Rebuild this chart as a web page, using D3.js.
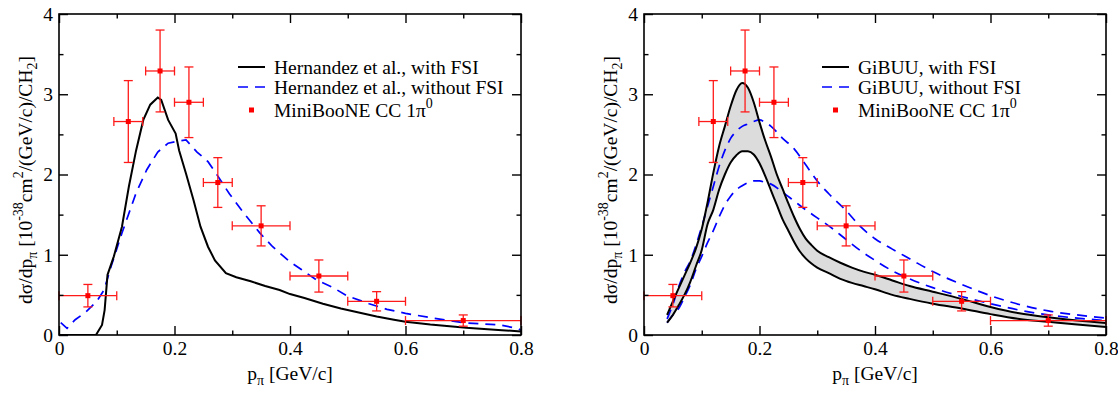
<!DOCTYPE html>
<html><head><meta charset="utf-8">
<script src="https://cdn.jsdelivr.net/npm/d3@7"></script>
<style>
body{margin:0;background:#fff}
svg{display:block}
text{font-family:"Liberation Serif","Times New Roman",serif;fill:#000}
</style>
</head><body>
<svg id="c" width="1118" height="394"></svg>
<script>
// ---------- data ----------
const xTickValues = [0, 0.2, 0.4, 0.6, 0.8];
const xTickLabels = ["0", "0.2", "0.4", "0.6", "0.8"];
const yTickValues = [0, 1, 2, 3, 4];
const yTickLabels = ["0", "1", "2", "3", "4"];
const xMinorTicks = [0.1, 0.3, 0.5, 0.7];
const yMinorTicks = [0.5, 1.5, 2.5, 3.5];

// MiniBooNE CC 1pi0 data
const mbX    = [0.05, 0.12, 0.175, 0.225, 0.275, 0.35, 0.45, 0.55, 0.70];
const mbXlo  = [0.0, 0.095, 0.15, 0.20, 0.25, 0.30, 0.40, 0.50, 0.60];
const mbXhi  = [0.1, 0.145, 0.20, 0.25, 0.30, 0.40, 0.50, 0.60, 0.80];
const mbY    = [0.49, 2.66, 3.29, 2.90, 1.90, 1.36, 0.735, 0.42, 0.18];
const mbYerr = [0.14, 0.51, 0.51, 0.44, 0.31, 0.25, 0.20, 0.12, 0.07];

// Hernandez et al., with FSI
const hernFsiX = [0, 0.064, 0.0745, 0.079, 0.084, 0.095, 0.109, 0.121, 0.1335, 0.146, 0.158, 0.171, 0.177, 0.189, 0.202, 0.208, 0.22, 0.233, 0.245, 0.258, 0.27, 0.289, 0.307, 0.332, 0.357, 0.382, 0.40, 0.425, 0.457, 0.488, 0.519, 0.55, 0.58, 0.60, 0.643, 0.705, 0.767, 0.80];
const hernFsiY = [0, 0, 0.125, 0.31, 0.75, 0.98, 1.35, 1.85, 2.30, 2.68, 2.87, 2.96, 2.93, 2.68, 2.51, 2.30, 2.01, 1.68, 1.35, 1.10, 0.93, 0.77, 0.72, 0.67, 0.61, 0.56, 0.51, 0.46, 0.39, 0.33, 0.28, 0.23, 0.19, 0.165, 0.13, 0.09, 0.06, 0.045];
// Hernandez et al., without FSI
const hernNoX = [0.003, 0.014, 0.028, 0.047, 0.065, 0.078, 0.09, 0.109, 0.1335, 0.152, 0.171, 0.189, 0.202, 0.22, 0.239, 0.258, 0.276, 0.295, 0.32, 0.348, 0.37, 0.40, 0.419, 0.446, 0.475, 0.498, 0.537, 0.568, 0.60, 0.648, 0.70, 0.764, 0.795, 0.80];
const hernNoY = [0.154, 0.083, 0.19, 0.29, 0.415, 0.56, 0.85, 1.27, 1.77, 2.06, 2.28, 2.39, 2.41, 2.43, 2.28, 2.16, 1.97, 1.76, 1.52, 1.27, 1.10, 0.91, 0.82, 0.685, 0.59, 0.49, 0.39, 0.32, 0.27, 0.21, 0.153, 0.125, 0.08, 0.06];

// GiBUU, with FSI (band edges on a common x grid)
const gibX = [0.04, 0.05, 0.06, 0.07, 0.08, 0.09, 0.10, 0.11, 0.12, 0.13, 0.14, 0.15, 0.16, 0.17, 0.18, 0.19, 0.20, 0.21, 0.22, 0.23, 0.24, 0.25, 0.26, 0.27, 0.28, 0.29, 0.30, 0.32, 0.34, 0.36, 0.38, 0.40, 0.43, 0.46, 0.50, 0.55, 0.60, 0.65, 0.70, 0.75, 0.80];
const gibFsiHi = [0.25, 0.42, 0.58, 0.74, 0.90, 1.08, 1.32, 1.65, 2.02, 2.35, 2.60, 2.85, 3.05, 3.14, 3.08, 2.90, 2.65, 2.42, 2.22, 2.00, 1.82, 1.64, 1.47, 1.32, 1.20, 1.12, 1.05, 0.97, 0.90, 0.84, 0.79, 0.75, 0.68, 0.61, 0.54, 0.45, 0.35, 0.27, 0.22, 0.18, 0.15];
const gibFsiLo = [0.154, 0.25, 0.37, 0.50, 0.66, 0.86, 1.06, 1.38, 1.56, 1.81, 2.00, 2.15, 2.24, 2.29, 2.29, 2.25, 2.14, 1.98, 1.80, 1.62, 1.44, 1.30, 1.16, 1.04, 0.955, 0.89, 0.84, 0.77, 0.70, 0.65, 0.61, 0.57, 0.50, 0.45, 0.39, 0.33, 0.26, 0.20, 0.165, 0.13, 0.10];
// GiBUU, without FSI (two dashed edges)
const gibNoX = [0.04, 0.05, 0.06, 0.07, 0.08, 0.09, 0.10, 0.11, 0.12, 0.13, 0.14, 0.15, 0.16, 0.17, 0.18, 0.19, 0.20, 0.21, 0.22, 0.24, 0.26, 0.28, 0.30, 0.32, 0.35, 0.375, 0.40, 0.43, 0.46, 0.50, 0.55, 0.60, 0.65, 0.70, 0.75, 0.80];
const gibNoHi = [0.20, 0.38, 0.60, 0.78, 0.92, 1.12, 1.35, 1.60, 1.85, 2.10, 2.30, 2.45, 2.54, 2.60, 2.63, 2.66, 2.68, 2.65, 2.60, 2.45, 2.32, 2.12, 1.92, 1.76, 1.55, 1.35, 1.20, 1.07, 0.95, 0.79, 0.63, 0.49, 0.38, 0.30, 0.25, 0.21];
const gibNoLo = [0.154, 0.25, 0.33, 0.47, 0.62, 0.82, 0.98, 1.15, 1.30, 1.47, 1.62, 1.73, 1.81, 1.86, 1.90, 1.92, 1.92, 1.90, 1.88, 1.78, 1.67, 1.56, 1.46, 1.36, 1.19, 1.05, 0.93, 0.80, 0.70, 0.59, 0.48, 0.39, 0.31, 0.25, 0.21, 0.18];

const legendLeft = ["Hernandez et al., with FSI", "Hernandez et al., without FSI", "MiniBooNE CC 1"];
const legendRight = ["GiBUU, with FSI", "GiBUU, without FSI", "MiniBooNE CC 1"];

// ---------- drawing ----------
const svg = d3.select("#c");
svg.append("rect").attr("width", 1118).attr("height", 394).attr("fill", "#fff");
const TOP = 14, BOT = 335;
const FS = 19.5, SFS = 14;
const FONT = '"Liberation Serif","Times New Roman",serif';

function panel(x0, x1, legend, legX, draw) {
  const x = d3.scaleLinear().domain([0, 0.8]).range([x0, x1]);
  const y = d3.scaleLinear().domain([0, 4]).range([BOT, TOP]);
  const g = svg.append("g");
  const clipId = "clip" + x0;
  svg.append("clipPath").attr("id", clipId).append("rect")
    .attr("x", x0).attr("y", TOP).attr("width", x1 - x0).attr("height", BOT - TOP);
  const plot = g.append("g").attr("clip-path", `url(#${clipId})`);

  draw(plot, x, y);

  // data
  const dg = g.append("g");
  mbX.forEach((v, i) => {
    const cx = x(v), cy = y(mbY[i]);
    const yl = y(mbY[i] - mbYerr[i]), yh = y(mbY[i] + mbYerr[i]);
    const xl = x(mbXlo[i]), xh = x(mbXhi[i]);
    const s = dg.append("g").attr("stroke", "#ff1a1a").attr("stroke-width", 1.3).attr("fill", "none");
    s.append("line").attr("x1", cx).attr("x2", cx).attr("y1", yl).attr("y2", yh);
    s.append("line").attr("x1", cx - 4.5).attr("x2", cx + 4.5).attr("y1", yl).attr("y2", yl);
    s.append("line").attr("x1", cx - 4.5).attr("x2", cx + 4.5).attr("y1", yh).attr("y2", yh);
    s.append("line").attr("x1", xl).attr("x2", xh).attr("y1", cy).attr("y2", cy);
    s.append("line").attr("x1", xl).attr("x2", xl).attr("y1", cy - 4.5).attr("y2", cy + 4.5);
    s.append("line").attr("x1", xh).attr("x2", xh).attr("y1", cy - 4.5).attr("y2", cy + 4.5);
    dg.append("rect").attr("x", cx - 2.5).attr("y", cy - 2.5).attr("width", 5).attr("height", 5).attr("fill", "#ff0000");
  });

  // axes (ticks inward)
  const ax = g.append("g").attr("class", "ax");
  ax.append("g").attr("transform", `translate(0,${BOT})`)
    .call(d3.axisBottom(x).tickValues(xTickValues).tickFormat((d, i) => xTickLabels[i]).tickSize(-9).tickSizeOuter(0).tickPadding(6));
  ax.append("g").attr("transform", `translate(0,${BOT})`)
    .call(d3.axisBottom(x).tickValues(xMinorTicks).tickFormat("").tickSize(-4.5).tickSizeOuter(0));
  ax.append("g").attr("transform", `translate(0,${TOP})`)
    .call(d3.axisTop(x).tickValues(xTickValues).tickFormat("").tickSize(-9).tickSizeOuter(0));
  ax.append("g").attr("transform", `translate(0,${TOP})`)
    .call(d3.axisTop(x).tickValues(xMinorTicks).tickFormat("").tickSize(-4.5).tickSizeOuter(0));
  ax.append("g").attr("transform", `translate(${x0},0)`)
    .call(d3.axisLeft(y).tickValues(yTickValues).tickFormat((d, i) => yTickLabels[i]).tickSize(-9).tickSizeOuter(0).tickPadding(6));
  ax.append("g").attr("transform", `translate(${x0},0)`)
    .call(d3.axisLeft(y).tickValues(yMinorTicks).tickFormat("").tickSize(-4.5).tickSizeOuter(0));
  ax.append("g").attr("transform", `translate(${x1},0)`)
    .call(d3.axisRight(y).tickValues(yTickValues).tickFormat("").tickSize(-9).tickSizeOuter(0));
  ax.append("g").attr("transform", `translate(${x1},0)`)
    .call(d3.axisRight(y).tickValues(yMinorTicks).tickFormat("").tickSize(-4.5).tickSizeOuter(0));
  ax.selectAll(".domain").remove();
  ax.selectAll("g").attr("font-family", FONT);
  ax.selectAll(".tick line").attr("stroke", "#000").attr("stroke-width", 1.4);
  ax.selectAll(".tick text").attr("font-size", FS).attr("font-family", FONT).attr("fill", "#000");
  g.append("rect").attr("x", x0).attr("y", TOP).attr("width", x1 - x0).attr("height", BOT - TOP)
    .attr("fill", "none").attr("stroke", "#000").attr("stroke-width", 1.6);

  // x title
  const xt = g.append("text").attr("x", (x0 + x1) / 2).attr("y", 380).attr("text-anchor", "middle")
    .attr("font-size", FS).attr("font-family", FONT);
  xt.append("tspan").text("p");
  xt.append("tspan").attr("font-size", SFS).attr("dy", 5).text("π");
  xt.append("tspan").attr("dy", -5).text(" [GeV/c]");

  // y title
  const yt = g.append("text").attr("transform", `translate(${x0 - 27},180) rotate(-90)`)
    .attr("text-anchor", "middle").attr("font-size", FS).attr("font-family", FONT);
  yt.append("tspan").text("dσ/dp");
  yt.append("tspan").attr("font-size", SFS).attr("dy", 5).text("π");
  yt.append("tspan").attr("dy", -5).text("  [10");
  yt.append("tspan").attr("font-size", SFS).attr("dy", -9).text("-38");
  yt.append("tspan").attr("dy", 9).text("cm");
  yt.append("tspan").attr("font-size", SFS).attr("dy", -9).text("2");
  yt.append("tspan").attr("dy", 9).text("/(GeV/c)/CH");
  yt.append("tspan").attr("font-size", SFS).attr("dy", 5).text("2");
  yt.append("tspan").attr("dy", -5).text("]");

  // legend
  const lg = g.append("g");
  const rows = [67, 87, 110];
  lg.append("line").attr("x1", legX).attr("x2", legX + 27).attr("y1", rows[0]).attr("y2", rows[0])
    .attr("stroke", "#000").attr("stroke-width", 2);
  lg.append("line").attr("x1", legX).attr("x2", legX + 27).attr("y1", rows[1]).attr("y2", rows[1])
    .attr("stroke", "#0000ff").attr("stroke-width", 1.7).attr("stroke-dasharray", "10,7");
  lg.append("rect").attr("x", legX + 13.5 - 2.5).attr("y", rows[2] - 2.5).attr("width", 5).attr("height", 5).attr("fill", "#ff0000");
  legend.forEach((t, i) => {
    const tx = lg.append("text").attr("x", legX + 36).attr("y", rows[i] + 6.5)
      .attr("font-size", FS).attr("font-family", FONT);
    tx.append("tspan").text(t);
    if (i === 2) {
      tx.append("tspan").text("π");
      tx.append("tspan").attr("font-size", SFS).attr("dy", -9).text("0");
    }
  });
}

const lineGen = (x, y) => d3.line().x(d => x(d[0])).y(d => y(d[1]));

// left panel
panel(59, 521, legendLeft, 238, (p, x, y) => {
  const l = lineGen(x, y);
  p.append("path").attr("d", l(hernNoX.map((v, i) => [v, hernNoY[i]])))
    .attr("fill", "none").attr("stroke", "#0000ff").attr("stroke-width", 1.7).attr("stroke-dasharray", "10,7");
  p.append("path").attr("d", l(hernFsiX.map((v, i) => [v, hernFsiY[i]])))
    .attr("fill", "none").attr("stroke", "#000").attr("stroke-width", 2);
});

// right panel
panel(644, 1106, legendRight, 822, (p, x, y) => {
  const l = lineGen(x, y).curve(d3.curveMonotoneX);
  const area = d3.area().x(d => x(d[0])).y0(d => y(d[2])).y1(d => y(d[1])).curve(d3.curveMonotoneX);
  p.append("path").attr("d", area(gibX.map((v, i) => [v, gibFsiHi[i], gibFsiLo[i]]))).attr("fill", "#dcdcdc");
  p.append("path").attr("d", l(gibNoX.map((v, i) => [v, gibNoHi[i]])))
    .attr("fill", "none").attr("stroke", "#0000ff").attr("stroke-width", 1.7).attr("stroke-dasharray", "10,7");
  p.append("path").attr("d", l(gibNoX.map((v, i) => [v, gibNoLo[i]])))
    .attr("fill", "none").attr("stroke", "#0000ff").attr("stroke-width", 1.7).attr("stroke-dasharray", "10,7");
  p.append("path").attr("d", l(gibX.map((v, i) => [v, gibFsiHi[i]])))
    .attr("fill", "none").attr("stroke", "#000").attr("stroke-width", 2);
  p.append("path").attr("d", l(gibX.map((v, i) => [v, gibFsiLo[i]])))
    .attr("fill", "none").attr("stroke", "#000").attr("stroke-width", 2);
});
</script>
</body></html>
